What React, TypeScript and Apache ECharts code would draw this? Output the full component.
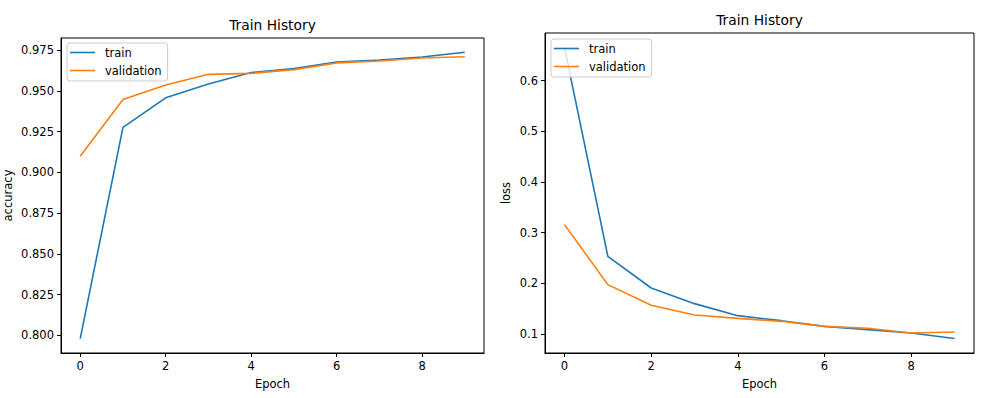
import React, { useEffect, useRef } from "react";
import * as echarts from "echarts";

const epochs = [0, 1, 2, 3, 4, 5, 6, 7, 8, 9];
const accTrain = [0.798, 0.9276, 0.9457, 0.9542, 0.9612, 0.9636, 0.9677, 0.9689, 0.9707, 0.9736];
const accVal = [0.9099, 0.9447, 0.9536, 0.9601, 0.9607, 0.963, 0.9671, 0.9683, 0.9701, 0.9709];
const lossTrain = [0.6653, 0.2533, 0.1908, 0.1599, 0.1362, 0.1263, 0.1151, 0.1086, 0.102, 0.0912];
const lossVal = [0.3158, 0.1974, 0.1566, 0.1375, 0.1309, 0.125, 0.1151, 0.1112, 0.102, 0.104];
const xTicks = [0, 2, 4, 6, 8];
const accTicks = [0.8, 0.825, 0.85, 0.875, 0.9, 0.925, 0.95, 0.975];
const lossTicks = [0.1, 0.2, 0.3, 0.4, 0.5, 0.6];
const seriesNames = ["train", "validation"];
const titleText = "Train History";

const BLUE = "#1f77b4";
const ORANGE = "#ff7f0e";
const FONT = "DejaVu Sans";
const FS = 11.5;

function pad(min: number, max: number, frac = 0.05) {
  const r = max - min;
  return [min - r * frac, max + r * frac];
}

export default function App() {
  const ref = useRef<HTMLDivElement>(null);
  useEffect(() => {
    if (!ref.current) return;
    const chart = echarts.init(ref.current, undefined, { renderer: "svg" });
    const [xMin, xMax] = pad(Math.min(...epochs), Math.max(...epochs));
    const [aMin, aMax] = pad(Math.min(...accTrain, ...accVal), Math.max(...accTrain, ...accVal));
    const [lMin, lMax] = pad(Math.min(...lossTrain, ...lossVal), Math.max(...lossTrain, ...lossVal));

    const axisCommon = {
      axisLine: { show: true, onZero: false, lineStyle: { color: "#000", width: 1 } },
      axisTick: { show: true, inside: false, length: 4, lineStyle: { color: "#000", width: 1 } },
      splitLine: { show: false },
      nameTextStyle: { fontFamily: FONT, fontSize: FS, color: "#000" },
    };
    const xAxisFor = (gridIndex: number) => ({
      type: "value",
      gridIndex,
      min: xMin,
      max: xMax,
      name: "Epoch",
      nameLocation: "middle",
      nameGap: 25,
      ...axisCommon,
      axisTick: { ...axisCommon.axisTick, customValues: xTicks },
      axisLabel: {
        customValues: xTicks,
        margin: 7,
        fontFamily: FONT,
        fontSize: FS,
        color: "#000",
        formatter: (v: number) => String(v),
      },
    });

    const legendFor = (left: number, top: number) => ({
      data: seriesNames,
      orient: "vertical",
      left,
      top,
      icon: "rect",
      itemWidth: 25,
      itemHeight: 1.6,
      itemGap: 5,
      padding: [3, 6, 4, 3],
      borderColor: "#cccccc",
      borderWidth: 1,
      borderRadius: 3,
      backgroundColor: "rgba(255,255,255,0.8)",
      selectedMode: false,
      textStyle: { fontFamily: FONT, fontSize: FS, color: "#000", padding: [0, 0, 0, 5], lineHeight: 13 },
    });

    const lineSeries = (name: string, data: number[], color: string, idx: number) => ({
      type: "line",
      name,
      xAxisIndex: idx,
      yAxisIndex: idx,
      data: epochs.map((e, i) => [e, data[i]]),
      symbol: "none",
      lineStyle: { color, width: 1.6 },
      itemStyle: { color },
      z: 2,
    });

    const titleStyle = { fontFamily: FONT, fontSize: 13.8, fontWeight: "normal", color: "#000" };

    chart.setOption({
      animation: false,
      backgroundColor: "#fff",
      title: [
        { text: titleText, left: 272.5, top: 18, textAlign: "center", padding: 0, textStyle: titleStyle },
        { text: titleText, left: 759.5, top: 13, textAlign: "center", padding: 0, textStyle: titleStyle },
      ],
      legend: [legendFor(67, 43), legendFor(551, 39)],
      grid: [
        { left: 61, top: 38, width: 423, height: 315, show: true, borderColor: "#000", borderWidth: 1, backgroundColor: "transparent" },
        { left: 545, top: 33, width: 429, height: 320, show: true, borderColor: "#000", borderWidth: 1, backgroundColor: "transparent" },
      ],
      xAxis: [xAxisFor(0), xAxisFor(1)],
      yAxis: [
        {
          type: "value",
          gridIndex: 0,
          min: aMin,
          max: aMax,
          name: "accuracy",
          nameLocation: "middle",
          nameRotate: 90,
          nameGap: 47,
          ...axisCommon,
          axisTick: { ...axisCommon.axisTick, customValues: accTicks },
          axisLabel: {
            customValues: accTicks,
            margin: 7,
            fontFamily: FONT,
            fontSize: FS,
            color: "#000",
            formatter: (v: number) => v.toFixed(3),
          },
        },
        {
          type: "value",
          gridIndex: 1,
          min: lMin,
          max: lMax,
          name: "loss",
          nameLocation: "middle",
          nameRotate: 90,
          nameGap: 33,
          ...axisCommon,
          axisTick: { ...axisCommon.axisTick, customValues: lossTicks },
          axisLabel: {
            customValues: lossTicks,
            margin: 7,
            fontFamily: FONT,
            fontSize: FS,
            color: "#000",
            formatter: (v: number) => v.toFixed(1),
          },
        },
      ],
      series: [
        lineSeries("train", accTrain, BLUE, 0),
        lineSeries("validation", accVal, ORANGE, 0),
        lineSeries("train", lossTrain, BLUE, 1),
        lineSeries("validation", lossVal, ORANGE, 1),
      ],
    });
    return () => chart.dispose();
  }, []);
  return (
    <div
      ref={ref}
      style={{ position: "fixed", left: 0, top: 0, width: 1004, height: 398 }}
    />
  );
}
